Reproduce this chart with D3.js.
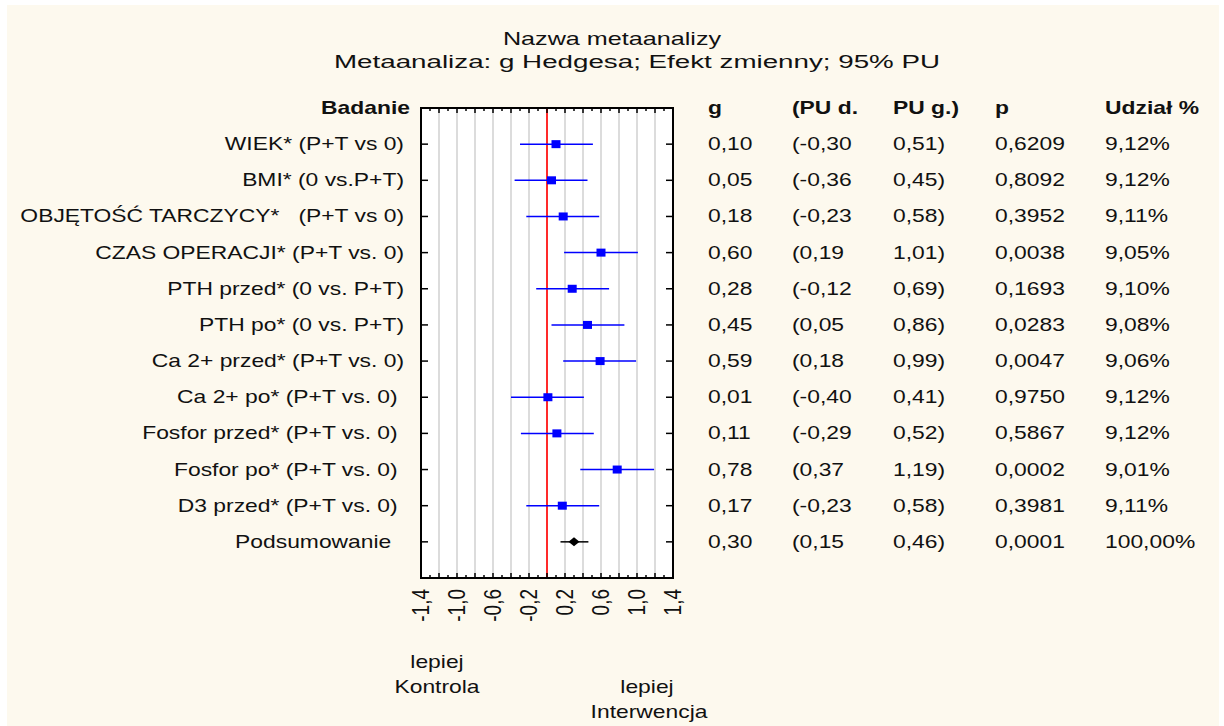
<!DOCTYPE html>
<html>
<head>
<meta charset="utf-8">
<script src="https://cdn.jsdelivr.net/npm/d3@7"></script>
<style>
 body { margin: 0; background: #ffffff; }
 text { font-family: "Liberation Sans", Arial, sans-serif; white-space: pre; }
</style>
</head>
<body>
<div id="forest"></div>
<script>
// data
var studies = ["WIEK* (P+T vs 0)", "BMI* (0 vs.P+T)", "OBJĘTOŚĆ TARCZYCY*   (P+T vs 0)",
  "CZAS OPERACJI* (P+T vs. 0)", "PTH przed* (0 vs. P+T)", "PTH po* (0 vs. P+T)",
  "Ca 2+ przed* (P+T vs. 0)", "Ca 2+ po* (P+T vs. 0) ", "Fosfor przed* (P+T vs. 0) ",
  "Fosfor po* (P+T vs. 0) ", "D3 przed* (P+T vs. 0) ", "Podsumowanie  "];
var gValues = [0.10, 0.05, 0.18, 0.60, 0.28, 0.45, 0.59, 0.01, 0.11, 0.78, 0.17, 0.30];
var ciLower = [-0.30, -0.36, -0.23, 0.19, -0.12, 0.05, 0.18, -0.40, -0.29, 0.37, -0.23, 0.15];
var ciUpper = [0.51, 0.45, 0.58, 1.01, 0.69, 0.86, 0.99, 0.41, 0.52, 1.19, 0.58, 0.46];
var pValues = [0.6209, 0.8092, 0.3952, 0.0038, 0.1693, 0.0283, 0.0047, 0.9750, 0.5867, 0.0002, 0.3981, 0.0001];
var weights = [9.12, 9.12, 9.11, 9.05, 9.10, 9.08, 9.06, 9.12, 9.12, 9.01, 9.11, 100.00];
var headers = ["g", "(PU d.", "PU g.)", "p", "Udział %"];
var xTickLabels = [-1.4, -1.0, -0.6, -0.2, 0.2, 0.6, 1.0, 1.4];

var pl = d3.formatLocale({decimal: ",", thousands: " ", grouping: [3], currency: ["", ""], minus: "-"});
var f2 = pl.format(".2f"), f4 = pl.format(".4f"), f1 = pl.format(".1f");

var W = 1224, H = 726;
var sx = 1.27; // text in the picture is stretched sideways

var svg = d3.select("#forest")
 .append("svg")
 .attr("width", W)
 .attr("height", H);

svg.append("rect")
 .attr("x", 7).attr("y", 5)
 .attr("width", 1212).attr("height", 721)
 .attr("fill", "#fdf9ee");

// stretched text helper
function stext(x, y, str, anchor, opts) {
 opts = opts || {};
 var g = svg.append("g")
  .attr("transform", "translate(" + x + "," + y + ") scale(" + (opts.sx || sx) + ",1)");
 g.append("text")
  .attr("text-anchor", anchor || "start")
  .attr("font-size", opts.size || 18)
  .attr("font-weight", opts.bold ? "bold" : "normal")
  .attr("fill", "#111")
  .text(str);
 return g;
}

// title
stext(612, 45, "Nazwa metaanalizy", "middle", {sx: 1.36, size: 18.5});
stext(637, 68, "Metaanaliza: g Hedgesa; Efekt zmienny; 95% PU", "middle", {sx: 1.5, size: 18.5});

// scales
var plot = {left: 421, right: 673, top: 108, bottom: 578};
var x = d3.scaleLinear().domain([-1.4, 1.4]).range([plot.left, plot.right]);
var y = d3.scaleLinear().domain([0, studies.length + 1]).range([plot.top, plot.bottom]);

var area = svg.append("g");
area.append("rect")
 .attr("x", plot.left).attr("y", plot.top)
 .attr("width", plot.right - plot.left).attr("height", plot.bottom - plot.top)
 .attr("fill", "#ffffff");

// grid every 0.2
var grid = d3.range(-12, 13, 2).map(function(d) { return d / 10; });
area.selectAll("line.grid")
 .data(grid)
 .enter()
 .append("line")
 .attr("x1", function(d) { return x(d); })
 .attr("x2", function(d) { return x(d); })
 .attr("y1", plot.top).attr("y2", plot.bottom)
 .attr("stroke", function(d) { return d === 0 ? "#ff2a2a" : "#dcdcdc"; })
 .attr("stroke-width", 2);

// top / bottom ticks every 0.1
var small = d3.range(-13, 14).map(function(d) { return d / 10; });
[plot.top, plot.bottom].forEach(function(yy, i) {
 var dir = i === 0 ? 1 : -1;
 area.selectAll("line.tk" + i)
  .data(small)
  .enter()
  .append("line")
  .attr("x1", function(d) { return x(d); })
  .attr("x2", function(d) { return x(d); })
  .attr("y1", yy)
  .attr("y2", function(d, j) { return yy + dir * ((j % 2) ? 5 : 3); })
  .attr("stroke", "#000").attr("stroke-width", 1.5);
});

// row ticks left and right
area.selectAll("line.rl")
 .data(studies)
 .enter()
 .append("line")
 .attr("x1", plot.left).attr("x2", plot.left + 7)
 .attr("y1", function(d, i) { return y(i + 1); })
 .attr("y2", function(d, i) { return y(i + 1); })
 .attr("stroke", "#000").attr("stroke-width", 1.5);
area.selectAll("line.rr")
 .data(studies)
 .enter()
 .append("line")
 .attr("x1", plot.right - 7).attr("x2", plot.right)
 .attr("y1", function(d, i) { return y(i + 1); })
 .attr("y2", function(d, i) { return y(i + 1); })
 .attr("stroke", "#000").attr("stroke-width", 1.5);

// frame
area.append("rect")
 .attr("x", plot.left).attr("y", plot.top)
 .attr("width", plot.right - plot.left).attr("height", plot.bottom - plot.top)
 .attr("fill", "none").attr("stroke", "#000").attr("stroke-width", 2);

// confidence intervals
var last = studies.length - 1;
area.selectAll("line.ci")
 .data(gValues)
 .enter()
 .append("line")
 .attr("x1", function(d, i) { return x(ciLower[i]); })
 .attr("x2", function(d, i) { return x(ciUpper[i]); })
 .attr("y1", function(d, i) { return y(i + 1); })
 .attr("y2", function(d, i) { return y(i + 1); })
 .attr("stroke", function(d, i) { return i === last ? "#000" : "#0000ff"; })
 .attr("stroke-width", 1.5);

// effect squares
area.selectAll("rect.pt")
 .data(gValues.slice(0, last))
 .enter()
 .append("rect")
 .attr("x", function(d) { return x(d) - 4.5; })
 .attr("y", function(d, i) { return y(i + 1) - 4; })
 .attr("width", 9).attr("height", 8)
 .attr("fill", "#0000ff");

// summary diamond
var sxp = x(gValues[last]), syp = y(last + 1);
area.append("path")
 .attr("d", "M" + (sxp - 5.5) + "," + syp + "L" + sxp + "," + (syp - 4.5) +
   "L" + (sxp + 5.5) + "," + syp + "L" + sxp + "," + (syp + 4.5) + "Z")
 .attr("fill", "#000");

// x tick labels (rotated, also stretched sideways)
xTickLabels.forEach(function(v) {
 svg.append("text")
  .attr("transform", "translate(" + (x(v) + 8) + "," + (plot.bottom + 11) + ") scale(" + sx + ",1) rotate(-90)")
  .attr("text-anchor", "end")
  .attr("font-size", 19)
  .attr("fill", "#111")
  .text(f1(v));
});

// row labels
stext(410, plot.top + 6, "Badanie", "end", {bold: true});
studies.forEach(function(s, i) {
 stext(404, y(i + 1) + 6, s, "end");
});

// table
var cols = [708, 792, 893, 995, 1105];
headers.forEach(function(h, j) {
 stext(cols[j], plot.top + 6, h, "start", {bold: true});
});
studies.forEach(function(s, i) {
 var yy = y(i + 1) + 6;
 stext(cols[0], yy, f2(gValues[i]), "start");
 stext(cols[1], yy, "(" + f2(ciLower[i]), "start");
 stext(cols[2], yy, f2(ciUpper[i]) + ")", "start");
 stext(cols[3], yy, f4(pValues[i]), "start");
 stext(cols[4], yy, f2(weights[i]) + "%", "start");
});

// favours labels
stext(437, 668, "lepiej", "middle");
stext(437, 693, "Kontrola", "middle");
stext(647, 693, "lepiej", "middle");
stext(649, 718, "Interwencja", "middle");
</script>
</body>
</html>
